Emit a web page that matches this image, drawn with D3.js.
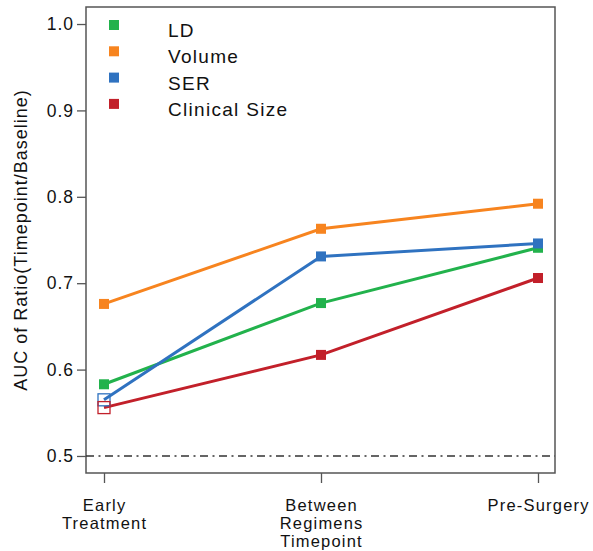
<!DOCTYPE html>
<html><head><meta charset="utf-8">
<script src="https://cdn.jsdelivr.net/npm/d3@7"></script>
<style>body{margin:0;background:#fff}svg{display:block;font-family:"Liberation Sans",Arial,sans-serif}</style>
</head><body><svg id="c" width="593" height="551"></svg>
<script>
const categories = ["Early\nTreatment", "Between\nRegimens\nTimepoint", "Pre-Surgery"];
const seriesNames = ["LD", "Volume", "SER", "Clinical Size"];
const seriesColors = ["#22b24c", "#f7841f", "#2f72c0", "#c2202a"];
const ldValues = [0.583, 0.677, 0.741];
const volumeValues = [0.676, 0.763, 0.792];
const serValues = [0.565, 0.731, 0.746];
const clinicalValues = [0.556, 0.617, 0.706];
const hollowFirst = [false, false, true, true];
const yTicks = [0.5, 0.6, 0.7, 0.8, 0.9, 1.0];
const refValue = 0.5;

const series = [ldValues, volumeValues, serValues, clinicalValues];
const svg = d3.select("#c");
const L = 86, R = 555, T = 7, B = 473;
const x = d3.scalePoint().domain(categories).range([104, 538]);
const y = d3.scaleLinear().domain([0.4803, 1.0197]).range([B, T]);

// frame
svg.append("rect").attr("x", L).attr("y", T).attr("width", R - L).attr("height", B - T)
  .attr("fill", "none").attr("stroke", "#555").attr("stroke-width", 1.5);

// y axis
const ya = svg.append("g").attr("transform", `translate(${L},0)`)
  .call(d3.axisLeft(y).tickValues(yTicks).tickFormat(d3.format(".1f")).tickSize(9).tickPadding(4));
ya.select(".domain").remove();
ya.selectAll("line").attr("stroke", "#555").attr("stroke-width", 1.3);
ya.selectAll("text").attr("font-size", 17.5).attr("fill", "#111")
  .attr("font-family", "Liberation Sans, Arial, sans-serif")
  .style("letter-spacing", "1px").attr("dx", 1);

// x axis
const xa = svg.append("g").attr("transform", `translate(0,${B})`)
  .call(d3.axisBottom(x).tickSize(10).tickFormat(""));
xa.select(".domain").remove();
xa.selectAll("line").attr("stroke", "#555").attr("stroke-width", 1.3);
categories.forEach(c => {
  const t = svg.append("text").attr("text-anchor", "middle").attr("font-size", 16.5).attr("fill", "#111")
    .style("letter-spacing", "1.2px");
  c.split("\n").forEach((ln, i) => {
    t.append("tspan").attr("x", x(c) + 0.6).attr("y", 510.5 + i * 18.3).text(ln);
  });
});

// y title
svg.append("text").attr("transform", `translate(27,${(T + B) / 2}) rotate(-90)`)
  .attr("text-anchor", "middle").attr("font-size", 18).attr("fill", "#111")
  .style("letter-spacing", "1px")
  .text("AUC of Ratio(Timepoint/Baseline)");

// reference line
svg.append("line").attr("x1", L).attr("x2", R).attr("y1", y(refValue)).attr("y2", y(refValue))
  .attr("stroke", "#333").attr("stroke-width", 1.4).attr("stroke-dasharray", "8,4.5,2,4.5");

// series
const line = d3.line().x((d, i) => x(categories[i])).y(d => y(d));
series.forEach((vals, s) => {
  svg.append("path").datum(vals).attr("d", line).attr("fill", "none")
    .attr("stroke", seriesColors[s]).attr("stroke-width", 3);
});
series.forEach((vals, s) => {
  vals.forEach((v, i) => {
    if (i === 0 && hollowFirst[s]) {
      svg.append("rect").attr("x", x(categories[i]) - 6).attr("y", y(v) - 6).attr("width", 12).attr("height", 12)
        .attr("fill", "none").attr("stroke", seriesColors[s]).attr("stroke-width", 1.3);
    } else {
      svg.append("rect").attr("x", x(categories[i]) - 5).attr("y", y(v) - 5).attr("width", 10).attr("height", 10)
        .attr("fill", seriesColors[s]);
    }
  });
});

// legend
seriesNames.forEach((n, i) => {
  const ly = 25 + i * 26.3;
  svg.append("rect").attr("x", 109).attr("y", ly - 5).attr("width", 10).attr("height", 10).attr("fill", seriesColors[i]);
  svg.append("text").attr("x", 168).attr("y", ly + 12).attr("font-size", 19).attr("fill", "#111")
    .style("letter-spacing", "1.3px").text(n);
});
</script></body></html>
